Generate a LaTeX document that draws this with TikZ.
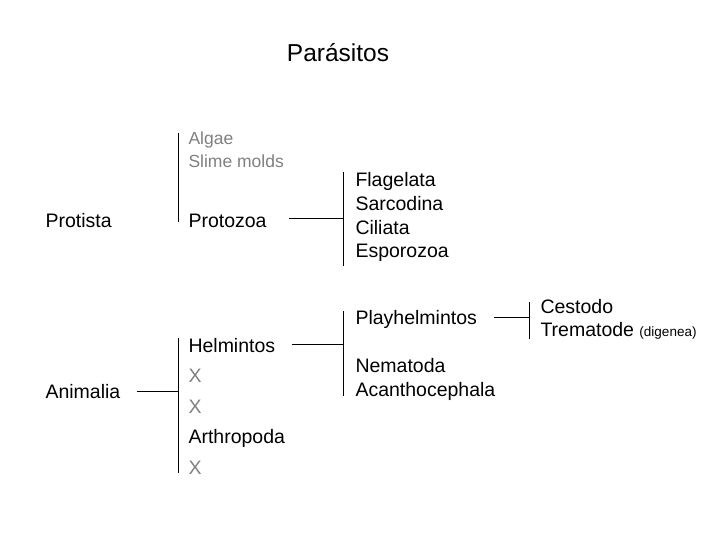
\documentclass[tikz,border=0pt]{standalone}
\usepackage{fontspec}
\setmainfont{Liberation Sans}
\usetikzlibrary{positioning}

\begin{document}
\begin{tikzpicture}[
				x=1pt, y=-1pt,
				line width=1pt,
				node distance={0pt},
				taxon/.style = {inner sep=0pt, anchor=base west, font=\fontsize{19.5}{23}\selectfont, text height=14.5pt, text depth=8pt},
				minor/.style = {taxon, gray, font=\fontsize{17.5}{21}\selectfont, text height=14pt},
				tall/.style = {text height=19.5pt, text depth=10pt}
				]
				\useasboundingbox (0,0) rectangle (720,540);
				
				\node[font=\fontsize{24.5}{29}\selectfont, anchor=base] (title) at (338,62) {Parásitos};
				
				% Protista
				\node[taxon] (protista) at (45,227) {Protista};
				\node[minor] (algae) at (188,145) {Algae};
				\node[minor] (slime) [below right=of algae.south west] {Slime molds};
				\node[taxon] (protozoa) at (188,227) {Protozoa};
				\node[taxon] (flagelata) at (355,187) {Flagelata};
				\node[taxon] (sarcodina) [below right=of flagelata.south west] {Sarcodina};
				\node[taxon] (ciliata) [below right=of sarcodina.south west] {Ciliata};
				\node[taxon] (esporozoa) [below right=of ciliata.south west] {Esporozoa};
				
				% Animalia
				\node[taxon] (animalia) at (45,398) {Animalia};
				\node[taxon, tall] (helmintos) at (188,352) {Helmintos};
				\node[taxon, tall, gray] (xa) [below right=of helmintos.south west] {X};
				\node[taxon, tall, gray] (xb) [below right=of xa.south west] {X};
				\node[taxon, tall] (arthropoda) [below right=of xb.south west] {Arthropoda};
				\node[taxon, tall, gray] (xc) [below right=of arthropoda.south west] {X};
				\node[taxon] (playhelmintos) at (355,324) {Playhelmintos};
				\node[taxon] (nematoda) [below right=25pt and 0pt of playhelmintos.south west] {Nematoda};
				\node[taxon] (acanthocephala) [below right=of nematoda.south west] {Acanthocephala};
				\node[taxon] (cestodo) at (540,313) {Cestodo};
				\node[taxon] (trematode) [below right=of cestodo.south west] {Trematode {\fontsize{13.5}{16}\selectfont (digenea)}};
				
				% bars
				\draw ([shift={(-10,3)}]algae.north west) -- ([shift={(-10,-5)}]protozoa.base west);
				\draw ([shift={(-12,0)}]flagelata.north west) coordinate (flagbar) -- ([shift={(-12,0)}]esporozoa.south west);
				\draw ([shift={(-10,-14)}]helmintos.base west) coordinate (helmbar) -- ([shift={(-10,-1)}]xc.base west);
				\draw ([shift={(-12,-13)}]playhelmintos.base west) coordinate (platybar) -- ([shift={(-12,0)}]acanthocephala.base west);
				\draw ([shift={(-11,-11)}]cestodo.base west) coordinate (cestbar) -- ([shift={(-11,2)}]trematode.base west);
				
				% links
				\draw ([shift={(22,-8)}]protozoa.base east) coordinate (pz) -- (pz -| flagbar);
				\draw ([shift={(16,-7)}]animalia.base east) coordinate (am) -- (am -| helmbar);
				\draw ([shift={(16,-8)}]helmintos.base east) coordinate (hm) -- (hm -| platybar);
				\draw ([shift={(17,-7)}]playhelmintos.base east) coordinate (pl) -- (pl -| cestbar);
			\end{tikzpicture}
\end{document}
